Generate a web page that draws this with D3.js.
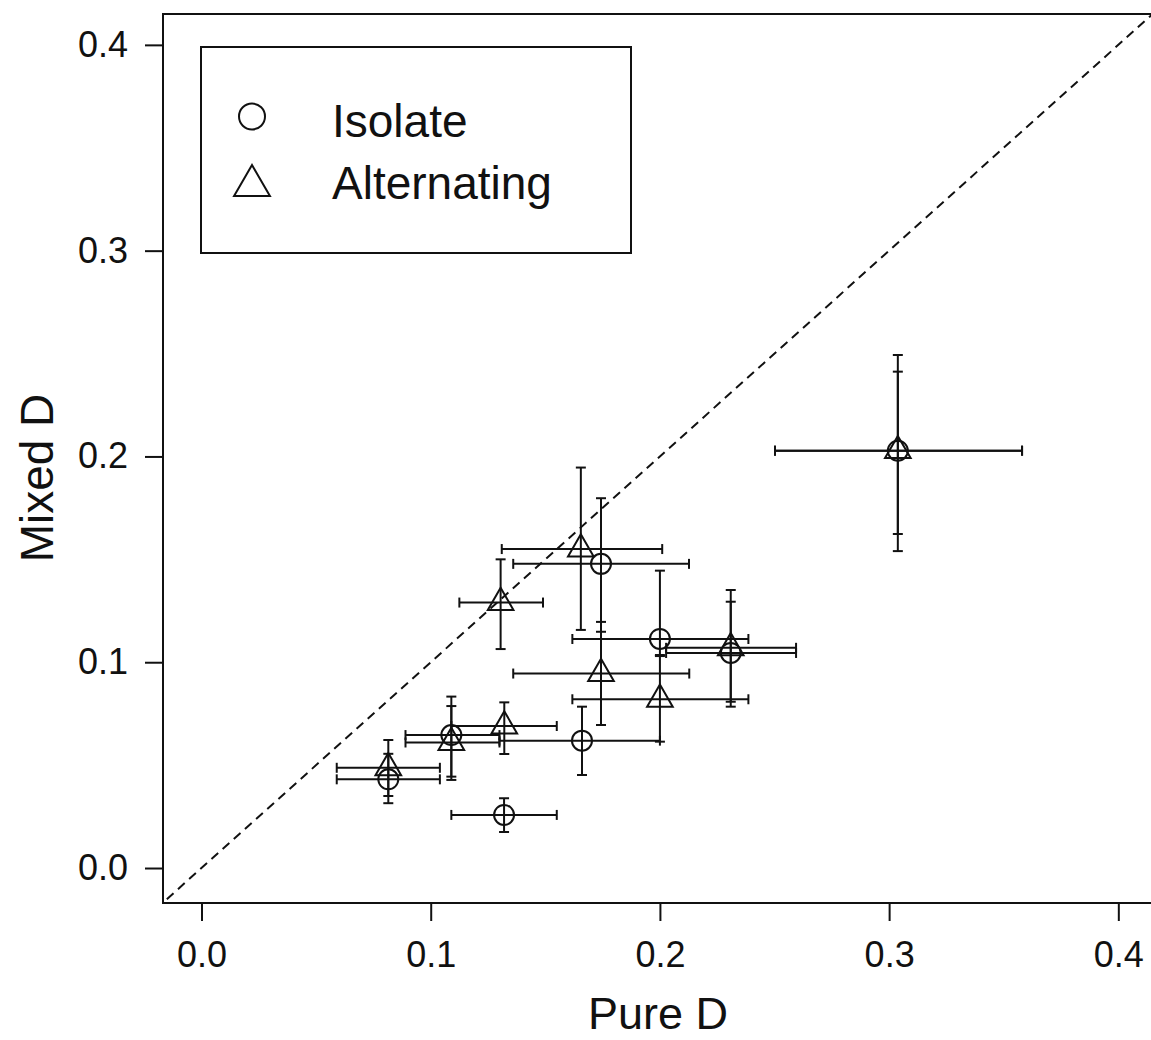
<!DOCTYPE html>
<html lang="en">
<head>
<meta charset="UTF-8">
<title>Mixed D vs Pure D</title>
<script src="https://d3js.org/d3.v7.min.js"></script>
<style>
  body { margin: 0; background: #fff; }
  svg text { font-family: "Liberation Sans", Arial, sans-serif; fill: #111; }
</style>
</head>
<body>
<svg id="chart" width="1151" height="1040"></svg>
<script>
// Isolate (circles)
var isoPure    = [0.0815, 0.109, 0.132, 0.166, 0.1743, 0.200, 0.2309, 0.3038];
var isoMixed   = [0.0431, 0.0646, 0.0258, 0.0619, 0.1478, 0.1113, 0.1045, 0.2028];
var isoPureLo  = [0.059, 0.089, 0.109, 0.130, 0.136, 0.1618, 0.2027, 0.2502];
var isoPureHi  = [0.104, 0.130, 0.155, 0.200, 0.2127, 0.2386, 0.2594, 0.358];
var isoMixedLo = [0.0315, 0.0444, 0.0175, 0.0452, 0.1148, 0.103, 0.0784, 0.1623];
var isoMixedHi = [0.0555, 0.0833, 0.0339, 0.0784, 0.1797, 0.1445, 0.1294, 0.2412];

// Alternating (triangles)
var altPure    = [0.0815, 0.109, 0.1321, 0.1305, 0.1655, 0.1743, 0.200, 0.2309, 0.3038];
var altMixed   = [0.0487, 0.061, 0.069, 0.129, 0.155, 0.0945, 0.082, 0.107, 0.2028];
var altPureLo  = [0.059, 0.089, 0.109, 0.1125, 0.131, 0.136, 0.1618, 0.2027, 0.2502];
var altPureHi  = [0.104, 0.130, 0.155, 0.149, 0.201, 0.2128, 0.2386, 0.2594, 0.358];
var altMixedLo = [0.035, 0.0428, 0.0554, 0.1064, 0.1157, 0.0695, 0.0614, 0.0808, 0.154];
var altMixedHi = [0.0622, 0.0787, 0.0805, 0.150, 0.1946, 0.1196, 0.1035, 0.1351, 0.2493];

var ticks = [0.0, 0.1, 0.2, 0.3, 0.4];
var legendLabels = ["Isolate", "Alternating"];

var svg = d3.select("#chart");

var x = d3.scaleLinear().domain([-0.0168, 0.416]).range([163, 1155]);
var y = d3.scaleLinear().domain([-0.017, 0.415]).range([903, 14]);

// build rows
function rows(p, m, plo, phi, mlo, mhi) {
  return p.map(function (v, i) {
    return { x: v, y: m[i], xlo: plo[i], xhi: phi[i], ylo: mlo[i], yhi: mhi[i] };
  });
}
var iso = rows(isoPure, isoMixed, isoPureLo, isoPureHi, isoMixedLo, isoMixedHi);
var alt = rows(altPure, altMixed, altPureLo, altPureHi, altMixedLo, altMixedHi);

// plot box (right side runs off the picture)
svg.append("rect")
  .attr("x", 163).attr("y", 14)
  .attr("width", 1155 - 163).attr("height", 903 - 14)
  .attr("fill", "none").attr("stroke", "#111").attr("stroke-width", 2);

// axes
var xAxis = svg.append("g").attr("transform", "translate(0,903)")
  .call(d3.axisBottom(x).tickValues(ticks).tickFormat(d3.format(".1f")).tickSize(18).tickPadding(20));
var yAxis = svg.append("g").attr("transform", "translate(163,0)")
  .call(d3.axisLeft(y).tickValues(ticks).tickFormat(d3.format(".1f")).tickSize(18).tickPadding(17));
[xAxis, yAxis].forEach(function (g) {
  g.select(".domain").remove();
  g.selectAll("line").attr("stroke", "#111").attr("stroke-width", 2);
  g.selectAll("text").style("font-size", "36px").attr("fill", "#111");
});

// axis titles
svg.append("text").attr("x", 658).attr("y", 1029)
  .attr("text-anchor", "middle").style("font-size", "45px").text("Pure D");
svg.append("text").attr("transform", "translate(53,478) rotate(-90)")
  .attr("text-anchor", "middle").style("font-size", "46px").text("Mixed D");

// 1:1 line
svg.append("clipPath").attr("id", "plotclip").append("rect")
  .attr("x", 163).attr("y", 14).attr("width", 992).attr("height", 889);
svg.append("line")
  .attr("clip-path", "url(#plotclip)")
  .attr("x1", x(-0.02)).attr("y1", y(-0.02))
  .attr("x2", x(0.42)).attr("y2", y(0.42))
  .attr("stroke", "#111").attr("stroke-width", 2).attr("stroke-dasharray", "9,6");

// error bars
var cap = 5;
function errorBars(data) {
  var g = svg.append("g").attr("stroke", "#111").attr("stroke-width", 2).attr("fill", "none");
  data.forEach(function (d) {
    g.append("line").attr("x1", x(d.xlo)).attr("x2", x(d.xhi)).attr("y1", y(d.y)).attr("y2", y(d.y));
    g.append("line").attr("x1", x(d.xlo)).attr("x2", x(d.xlo)).attr("y1", y(d.y) - cap).attr("y2", y(d.y) + cap);
    g.append("line").attr("x1", x(d.xhi)).attr("x2", x(d.xhi)).attr("y1", y(d.y) - cap).attr("y2", y(d.y) + cap);
    g.append("line").attr("x1", x(d.x)).attr("x2", x(d.x)).attr("y1", y(d.ylo)).attr("y2", y(d.yhi));
    g.append("line").attr("x1", x(d.x) - cap).attr("x2", x(d.x) + cap).attr("y1", y(d.ylo)).attr("y2", y(d.ylo));
    g.append("line").attr("x1", x(d.x) - cap).attr("x2", x(d.x) + cap).attr("y1", y(d.yhi)).attr("y2", y(d.yhi));
  });
}
errorBars(iso);
errorBars(alt);

// R-style pch 2 triangle: apex r above, base r/2 below
function triPath(cx, cy, r) {
  var h = r * Math.sqrt(3) / 2;
  return "M" + cx + "," + (cy - r) + "L" + (cx + h) + "," + (cy + r / 2) + "L" + (cx - h) + "," + (cy + r / 2) + "Z";
}

svg.append("g").selectAll("circle").data(iso).enter().append("circle")
  .attr("cx", function (d) { return x(d.x); })
  .attr("cy", function (d) { return y(d.y); })
  .attr("r", 10)
  .attr("fill", "none").attr("stroke", "#111").attr("stroke-width", 2);

svg.append("g").selectAll("path").data(alt).enter().append("path")
  .attr("d", function (d) { return triPath(x(d.x), y(d.y), 14.8); })
  .attr("fill", "none").attr("stroke", "#111").attr("stroke-width", 2);

// legend
var lg = svg.append("g");
lg.append("rect").attr("x", 201).attr("y", 47).attr("width", 430).attr("height", 206)
  .attr("fill", "#fff").attr("stroke", "#111").attr("stroke-width", 2);
lg.append("circle").attr("cx", 252).attr("cy", 116.5).attr("r", 13)
  .attr("fill", "none").attr("stroke", "#111").attr("stroke-width", 2);
lg.append("path").attr("d", triPath(252, 185.7, 20.7))
  .attr("fill", "none").attr("stroke", "#111").attr("stroke-width", 2);
lg.append("text").attr("x", 332).attr("y", 137).style("font-size", "46px").text(legendLabels[0]);
lg.append("text").attr("x", 332).attr("y", 199).style("font-size", "46px").text(legendLabels[1]);
</script>
</body>
</html>
